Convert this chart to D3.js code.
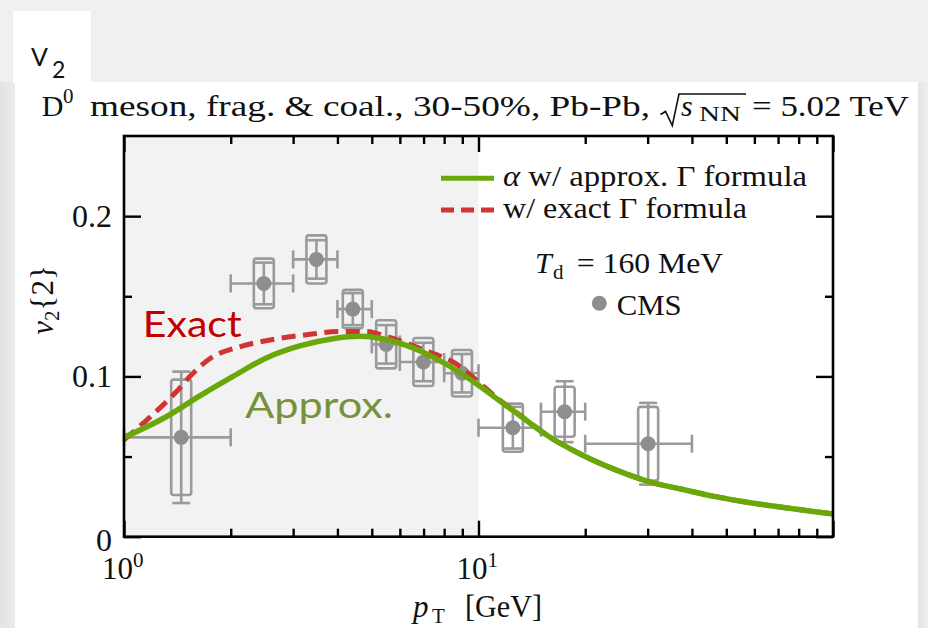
<!DOCTYPE html>
<html>
<head>
<meta charset="utf-8">
<script src="https://cdn.jsdelivr.net/npm/d3@7"></script>
<style>
  body { margin: 0; background: #efefef; }
  svg { display: block; }
</style>
</head>
<body>
<svg id="chart" width="928" height="628"></svg>
<script>
// ---- CMS D0 v2{2}, 30-50% Pb-Pb (points with stat. bars and syst. boxes) ----
const cmsPt    = [1.45, 2.48, 3.49, 4.42, 5.49, 6.99, 8.98, 12.5, 17.5, 30.1];
const cmsPtLo  = [1, 2, 3, 4, 5, 6, 8, 10, 15, 20];
const cmsPtHi  = [2, 3, 4, 5, 6, 8, 10, 15, 20, 40];
const cmsV2    = [0.062, 0.158, 0.173, 0.142, 0.120, 0.109, 0.102, 0.068, 0.078, 0.058];
const cmsStat  = [0.041, 0.013, 0.012, 0.010, 0.012, 0.012, 0.012, 0.013, 0.019, 0.0255];
const cmsSyst  = [0.036, 0.0155, 0.015, 0.012, 0.015, 0.015, 0.0145, 0.015, 0.0156, 0.023];

// ---- model: alpha with approximate Gamma formula ----
const approxPt = [1.0, 1.32, 1.64, 2.03, 2.52, 3.13, 3.88, 4.62, 5.37, 6.67, 8.27, 10, 11.44, 12.74,
                  15.8, 19.6, 24.4, 30.2, 37.5, 46.6, 57.8, 71.7, 89.1, 100];
const approxV2 = [0.062, 0.075, 0.088, 0.100, 0.1115, 0.119, 0.1235, 0.125, 0.1235, 0.117, 0.1065, 0.0945, 0.085, 0.0775,
                  0.0625, 0.051, 0.0417, 0.0344, 0.0296, 0.025, 0.0213, 0.0184, 0.0156, 0.0142];

// ---- model: exact Gamma formula ----
const exactPt  = [1.0, 1.184, 1.407, 1.55, 1.745, 2.12, 2.63, 3.27, 4.05, 4.82, 5.49, 6.8, 9.0, 10, 11.44, 12.74,
                  15.8, 19.6, 24.4, 30.2, 37.5, 46.6, 57.8, 71.7, 89.1, 100];
const exactV2  = [0.0604, 0.0746, 0.0906, 0.101, 0.111, 0.1185, 0.123, 0.126, 0.128, 0.128, 0.125, 0.1177, 0.1052, 0.0965, 0.0855, 0.0778,
                  0.0625, 0.051, 0.0417, 0.0344, 0.0296, 0.025, 0.0213, 0.0184, 0.0156, 0.0142];

// ---- axes ----
const xMajorTicks = [1, 10, 100];
const xMinorTicks = [2, 3, 4, 5, 6, 7, 8, 9, 20, 30, 40, 50, 60, 70, 80, 90];
const xLabelVals  = [1, 10];
const xLabelExps  = ["0", "1"];
const yMajorTicks = [0, 0.1, 0.2];
const yMinorTicks = [0.05, 0.15];
const yLabelVals  = [0, 0.1, 0.2];
const yLabelText  = ["0", "0.1", "0.2"];

const SERIF = "'Liberation Serif', 'Times New Roman', serif";
const SANS  = "Lato, 'Open Sans', sans-serif";
const GREEN = "#6aa80a", RED = "#d03535", GREY = "#9a9a9a", DOT = "#8e8e8e";

const svg = d3.select("#chart");

// page background and white panel
const defs = svg.append("defs");
const gl = defs.append("linearGradient").attr("id", "edgeL");
gl.append("stop").attr("offset", "0").attr("stop-color", "#e2e2e2");
gl.append("stop").attr("offset", "1").attr("stop-color", "#ebebeb");
const gr = defs.append("linearGradient").attr("id", "edgeR");
gr.append("stop").attr("offset", "0").attr("stop-color", "#e4e4e4");
gr.append("stop").attr("offset", "1").attr("stop-color", "#eeeeee");

svg.append("rect").attr("width", 928).attr("height", 628).attr("fill", "#f0f0f0");
svg.append("rect").attr("x", 0).attr("y", 82).attr("width", 15).attr("height", 546).attr("fill", "url(#edgeL)");
svg.append("rect").attr("x", 918).attr("y", 82).attr("width", 10).attr("height", 546).attr("fill", "url(#edgeR)");
svg.append("rect").attr("x", 15).attr("y", 82).attr("width", 903).attr("height", 546).attr("fill", "#ffffff");
svg.append("rect").attr("x", 13).attr("y", 11).attr("width", 78).attr("height", 72).attr("fill", "#ffffff");

// "V2" slide label
const vlab = svg.append("text").attr("font-family", SANS).attr("fill", "#111");
vlab.append("tspan").attr("x", 31).attr("y", 66).attr("font-size", 25).text("V");
vlab.append("tspan").attr("x", 52).attr("y", 78).attr("font-size", 23).text("2");

// scales
const x = d3.scaleLog().domain([1, 100]).range([124, 833]);
const y = d3.scaleLinear().domain([0, 0.25]).range([536.7, 136]);
const [x0, x1] = x.range();
const [y0, y1] = y.range();

// shaded low-pT region
svg.append("rect")
  .attr("x", x(1)).attr("y", y1)
  .attr("width", x(10) - x(1)).attr("height", y0 - y1)
  .attr("fill", "#f2f2f2");

// clip for the curves
defs.append("clipPath").attr("id", "plotClip")
  .append("rect").attr("x", x0).attr("y", y1).attr("width", x1 - x0).attr("height", y0 - y1);

// ---- CMS points ----
const pts = cmsPt.map((p, i) => ({ p, lo: cmsPtLo[i], hi: cmsPtHi[i], v: cmsV2[i], s: cmsStat[i], sy: cmsSyst[i] }));
const gPts = svg.append("g").attr("stroke", GREY).attr("stroke-width", 2.6).attr("fill", "none");
const boxHalf = 10, capHalf = 9;
pts.forEach(d => {
  const cx = x(d.p), cy = y(d.v);
  // systematic box
  gPts.append("rect")
    .attr("x", cx - boxHalf).attr("y", y(d.v + d.sy))
    .attr("width", 2 * boxHalf).attr("height", y(d.v - d.sy) - y(d.v + d.sy))
    .attr("rx", 2.5);
  // statistical bar
  gPts.append("line").attr("x1", cx).attr("x2", cx).attr("y1", y(d.v + d.s)).attr("y2", y(d.v - d.s));
  gPts.append("line").attr("x1", cx - capHalf).attr("x2", cx + capHalf).attr("y1", y(d.v + d.s)).attr("y2", y(d.v + d.s));
  gPts.append("line").attr("x1", cx - capHalf).attr("x2", cx + capHalf).attr("y1", y(d.v - d.s)).attr("y2", y(d.v - d.s));
  // pT bin
  gPts.append("line").attr("x1", x(d.lo)).attr("x2", x(d.hi)).attr("y1", cy).attr("y2", cy);
  gPts.append("line").attr("x1", x(d.lo)).attr("x2", x(d.lo)).attr("y1", cy - capHalf).attr("y2", cy + capHalf);
  gPts.append("line").attr("x1", x(d.hi)).attr("x2", x(d.hi)).attr("y1", cy - capHalf).attr("y2", cy + capHalf);
});
svg.append("g").selectAll("circle").data(pts).join("circle")
  .attr("cx", d => x(d.p)).attr("cy", d => y(d.v)).attr("r", 7.5).attr("fill", DOT);

// ---- model curves ----
const line = d3.line().x(d => x(d[0])).y(d => y(d[1])).curve(d3.curveMonotoneX);
const gCurves = svg.append("g").attr("clip-path", "url(#plotClip)");
gCurves.append("path")
  .attr("d", line(exactPt.map((p, i) => [p, exactV2[i]])))
  .attr("fill", "none").attr("stroke", RED).attr("stroke-width", 5).attr("stroke-dasharray", "14,7.5");
gCurves.append("path")
  .attr("d", line(approxPt.map((p, i) => [p, approxV2[i]])))
  .attr("fill", "none").attr("stroke", GREEN).attr("stroke-width", 5.5);

// ---- frame and ticks ----
function ticks(axis, transform) {
  const g = svg.append("g").attr("transform", transform).call(axis);
  g.select(".domain").remove();
  g.selectAll(".tick line").attr("stroke", "#000").attr("stroke-width", 2.4);
  g.selectAll(".tick text").remove();
}
ticks(d3.axisBottom(x).tickValues(xMajorTicks).tickSize(-16).tickFormat(""), `translate(0,${y0})`);
ticks(d3.axisBottom(x).tickValues(xMinorTicks).tickSize(-8).tickFormat(""), `translate(0,${y0})`);
ticks(d3.axisTop(x).tickValues(xMajorTicks).tickSize(-16).tickFormat(""), `translate(0,${y1})`);
ticks(d3.axisTop(x).tickValues(xMinorTicks).tickSize(-8).tickFormat(""), `translate(0,${y1})`);
ticks(d3.axisLeft(y).tickValues(yMajorTicks).tickSize(-17).tickFormat(""), `translate(${x0},0)`);
ticks(d3.axisLeft(y).tickValues(yMinorTicks).tickSize(-8).tickFormat(""), `translate(${x0},0)`);
ticks(d3.axisRight(y).tickValues(yMajorTicks).tickSize(-17).tickFormat(""), `translate(${x1},0)`);
ticks(d3.axisRight(y).tickValues(yMinorTicks).tickSize(-8).tickFormat(""), `translate(${x1},0)`);

svg.append("rect")
  .attr("x", x0).attr("y", y1).attr("width", x1 - x0).attr("height", y0 - y1)
  .attr("fill", "none").attr("stroke", "#000").attr("stroke-width", 2.6);

// tick labels
xLabelVals.forEach((v, i) => {
  const t = svg.append("text").attr("font-family", SERIF).attr("fill", "#111")
    .attr("x", x(v) - 22).attr("y", y0 + 42.3);
  t.append("tspan").attr("font-size", 31).text("10");
  t.append("tspan").attr("font-size", 21).attr("dy", -12.4).text(xLabelExps[i]);
});
yLabelVals.forEach((v, i) => {
  svg.append("text").attr("font-family", SERIF).attr("font-size", 32).attr("fill", "#111")
    .attr("text-anchor", "end").attr("x", x0 - 12)
    .attr("y", y(v) + (v === 0 ? 14.5 : 11)).text(yLabelText[i]);
});

// axis titles
const xt = svg.append("text").attr("font-family", SERIF).attr("fill", "#111");
xt.append("tspan").attr("x", 413).attr("y", 617).attr("font-size", 31).attr("font-style", "italic").text("p");
xt.append("tspan").attr("x", 432).attr("y", 623).attr("font-size", 21).text("T");
xt.append("tspan").attr("x", 465).attr("y", 617).attr("font-size", 31)
  .attr("textLength", 77).attr("lengthAdjust", "spacingAndGlyphs").text("[GeV]");

const yt = svg.append("text").attr("font-family", SERIF).attr("fill", "#111")
  .attr("transform", "translate(53,300) rotate(-90)").attr("text-anchor", "middle");
yt.append("tspan").attr("font-size", 31).attr("font-style", "italic").text("v");
yt.append("tspan").attr("font-size", 21).attr("dy", 6).text("2");
yt.append("tspan").attr("font-size", 31).attr("dy", -6).text("{2}");

// title
const ttl = svg.append("g").attr("font-family", SERIF).attr("fill", "#111");
ttl.append("text").attr("x", 41.7).attr("y", 116).attr("font-size", 30).text("D");
ttl.append("text").attr("x", 63).attr("y", 103).attr("font-size", 21).text("0");
ttl.append("text").attr("x", 90).attr("y", 116).attr("font-size", 30)
  .attr("textLength", 560).attr("lengthAdjust", "spacingAndGlyphs")
  .text("meson, frag. & coal., 30-50%, Pb-Pb,");
ttl.append("path")
  .attr("d", "M660.5,114.5 L665.5,111.5 L672.3,125.5 L679,94 L746,94")
  .attr("fill", "none").attr("stroke", "#111").attr("stroke-width", 1.6).attr("stroke-linejoin", "miter");
ttl.append("text").attr("x", 681).attr("y", 116).attr("font-size", 30).attr("font-style", "italic").text("s");
ttl.append("text").attr("x", 699).attr("y", 121).attr("font-size", 21)
  .attr("textLength", 42).attr("lengthAdjust", "spacingAndGlyphs").text("NN");
ttl.append("text").attr("x", 752).attr("y", 116).attr("font-size", 30)
  .attr("textLength", 157).attr("lengthAdjust", "spacingAndGlyphs").text("= 5.02 TeV");

// legend
const lg = svg.append("g").attr("font-family", SERIF).attr("fill", "#111");
lg.append("line").attr("x1", 441).attr("x2", 494).attr("y1", 178.3).attr("y2", 178.3)
  .attr("stroke", GREEN).attr("stroke-width", 5);
lg.append("line").attr("x1", 441).attr("x2", 494).attr("y1", 210).attr("y2", 210)
  .attr("stroke", RED).attr("stroke-width", 5).attr("stroke-dasharray", "13,7");
const l1 = lg.append("text").attr("x", 503).attr("y", 185.5).attr("font-size", 29)
  .attr("textLength", 304).attr("lengthAdjust", "spacingAndGlyphs");
l1.append("tspan").attr("font-style", "italic").text("α");
l1.append("tspan").text(" w/ approx. Γ formula");
lg.append("text").attr("x", 503).attr("y", 217.5).attr("font-size", 29)
  .attr("textLength", 244).attr("lengthAdjust", "spacingAndGlyphs").text("w/ exact Γ formula");

// decoupling temperature note
lg.append("text").attr("x", 535).attr("y", 273.3).attr("font-size", 30).attr("font-style", "italic").text("T");
lg.append("text").attr("x", 553).attr("y", 279).attr("font-size", 21).text("d");
lg.append("text").attr("x", 576.7).attr("y", 273.3).attr("font-size", 30)
  .attr("textLength", 146.6).attr("lengthAdjust", "spacingAndGlyphs").text("= 160 MeV");
lg.append("circle").attr("cx", 599.3).attr("cy", 303.3).attr("r", 7.5).attr("fill", DOT);
lg.append("text").attr("x", 616.7).attr("y", 315).attr("font-size", 30)
  .attr("textLength", 65).attr("lengthAdjust", "spacingAndGlyphs").text("CMS");

// curve annotations
svg.append("text").attr("font-family", SANS).attr("font-size", 37).attr("fill", "#c00000")
  .attr("x", 142.7).attr("y", 336.7).attr("textLength", 99).attr("lengthAdjust", "spacingAndGlyphs").text("Exact");
svg.append("text").attr("font-family", SANS).attr("font-size", 37).attr("fill", "#76923c")
  .attr("x", 245).attr("y", 418.3).attr("textLength", 148).attr("lengthAdjust", "spacingAndGlyphs").text("Approx.");
</script>
</body>
</html>
